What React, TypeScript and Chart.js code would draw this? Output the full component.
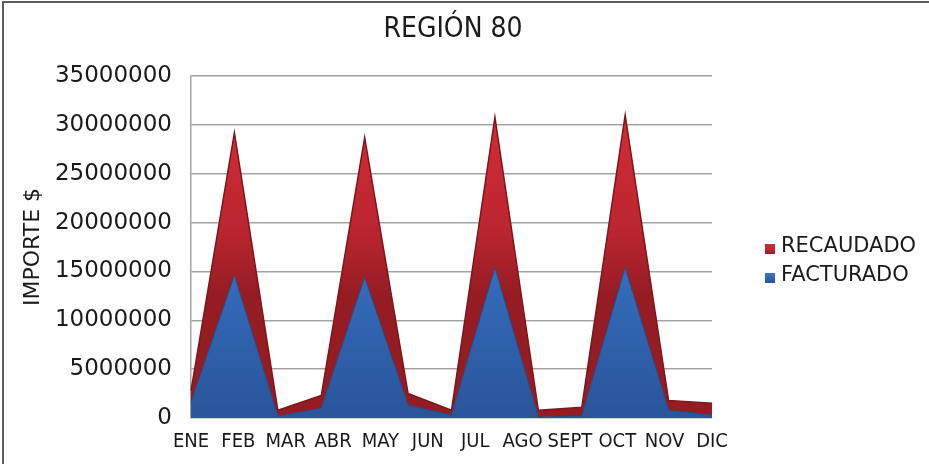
import React, { useEffect, useRef } from "react";
import { Chart, registerables } from "chart.js";

Chart.register(...registerables);

const TITLE = "REGIÓN 80";
const Y_TITLE = "IMPORTE $";
const MONTHS = ["ENE", "FEB", "MAR", "ABR", "MAY", "JUN", "JUL", "AGO", "SEPT", "OCT", "NOV", "DIC"];
const PERIODS = ["1", "2", "3", "4", "5", "6", "7", "8", "9", "10", "11", "12", "13"];
const FACTURADO = [1600000, 14600000, 200000, 1000000, 14400000, 1300000, 300000, 15400000, 100000, 200000, 15400000, 800000, 300000];
const RECAUDADO = [1200000, 14600000, 600000, 1300000, 14300000, 1200000, 500000, 15400000, 700000, 900000, 15600000, 1000000, 1200000];
const Y_MIN = 0;
const Y_MAX = 35000000;
const Y_STEP = 5000000;

const NARROW = "'Liberation Sans Narrow', 'DejaVu Sans Condensed', 'Arial Narrow', sans-serif";
const SANS = "'DejaVu Sans', Verdana, sans-serif";

function blueFill(c: CanvasRenderingContext2D, top: number, bottom: number) {
  const g = c.createLinearGradient(0, top, 0, bottom);
  g.addColorStop(0, "#3c78c8");
  g.addColorStop(0.5, "#3065b2");
  g.addColorStop(1, "#295599");
  return g;
}
function redFill(c: CanvasRenderingContext2D, top: number, bottom: number) {
  const g = c.createLinearGradient(0, top, 0, bottom);
  g.addColorStop(0, "#cf2c35");
  g.addColorStop(0.6, "#bd2630");
  g.addColorStop(1, "#941c22");
  return g;
}

const decorPlugin = {
  id: "decor",
  afterDraw(chart: any) {
    const c: CanvasRenderingContext2D = chart.ctx;
    c.save();
    // frame (left and top edges only)
    c.fillStyle = "#5c5c5c";
    c.fillRect(2, 1, 2, 463);
    c.fillRect(2, 1, 927, 2);
    // title
    c.fillStyle = "#1a1a1a";
    c.font = `28px ${NARROW}`;
    c.textAlign = "center";
    c.textBaseline = "middle";
    c.fillText(TITLE, 453, 30);
    // legend
    const items = [
      { label: chart.data.datasets[1].label, kind: "red", y: 247 },
      { label: chart.data.datasets[0].label, kind: "blue", y: 276 },
    ];
    c.font = `21px ${SANS}`;
    c.textBaseline = "middle";
    c.textAlign = "left";
    for (const it of items) {
      const bx = 765;
      const by = it.y - 3;
      c.fillStyle = it.kind === "red" ? redFill(c, by, by + 10) : blueFill(c, by, by + 10);
      c.fillRect(bx, by, 10, 10);
      c.fillStyle = "#1a1a1a";
      c.fillText(it.label, 781, it.y);
    }
    c.restore();
  },
};

export default function App() {
  const ref = useRef<HTMLCanvasElement | null>(null);

  useEffect(() => {
    document.body.style.margin = "0";
    if (!ref.current) return;
    const chart = new Chart(ref.current, {
      type: "line",
      data: {
        labels: PERIODS,
        datasets: [
          {
            label: "FACTURADO",
            data: FACTURADO,
            xAxisID: "x",
            fill: "origin",
            tension: 0,
            pointRadius: 0,
            borderWidth: 1,
            borderColor: "#1f4886",
            backgroundColor: (ctx: any) => {
              const area = ctx.chart.chartArea;
              if (!area) return "#3065b2";
              return blueFill(ctx.chart.ctx, area.top + 140, area.bottom);
            },
          },
          {
            label: "RECAUDADO",
            data: RECAUDADO,
            xAxisID: "x",
            fill: "-1",
            tension: 0,
            pointRadius: 0,
            borderWidth: 1.5,
            borderColor: "#7e161b",
            backgroundColor: (ctx: any) => {
              const area = ctx.chart.chartArea;
              if (!area) return "#bd2630";
              return redFill(ctx.chart.ctx, area.top + 40, area.bottom - 120);
            },
          },
        ],
      },
      options: {
        responsive: false,
        animation: false,
        devicePixelRatio: 1,
        layout: { padding: { left: 0, right: 217, top: 76, bottom: 0 } },
        plugins: {
          legend: { display: false },
          tooltip: { enabled: false },
          title: { display: false },
        },
        scales: {
          x: {
            type: "category",
            display: false,
            offset: false,
          },
          x2: {
            type: "category",
            position: "bottom",
            labels: MONTHS,
            offset: false,
            grid: { display: false, drawTicks: false },
            border: { display: false },
            ticks: {
              color: "#1a1a1a",
              font: { family: NARROW, size: 20 },
              padding: 12,
              maxRotation: 0,
              autoSkip: false,
            },
            afterFit: (s: any) => {
              s.height = 46;
            },
          },
          y: {
            stacked: true,
            min: Y_MIN,
            max: Y_MAX,
            grid: { color: "#a3a3a3", lineWidth: 1.5, drawTicks: false },
            border: { display: true, color: "#a3a3a3", width: 1.5 },
            ticks: {
              stepSize: Y_STEP,
              color: "#1a1a1a",
              font: { family: SANS, size: 23 },
              padding: 19,
              callback: (v: any) => String(v),
            },
            title: {
              display: true,
              text: Y_TITLE,
              color: "#1a1a1a",
              font: { family: SANS, size: 22 },
              padding: { top: 20, bottom: 0 },
            },
            afterFit: (s: any) => {
              s.width = 191;
            },
          },
        },
      },
      plugins: [decorPlugin],
    } as any);
    return () => chart.destroy();
  }, []);

  return (
    <div style={{ position: "absolute", left: 0, top: 0, width: 929, height: 464, background: "#fff" }}>
      <canvas ref={ref} width={929} height={464} style={{ display: "block" }} />
    </div>
  );
}
